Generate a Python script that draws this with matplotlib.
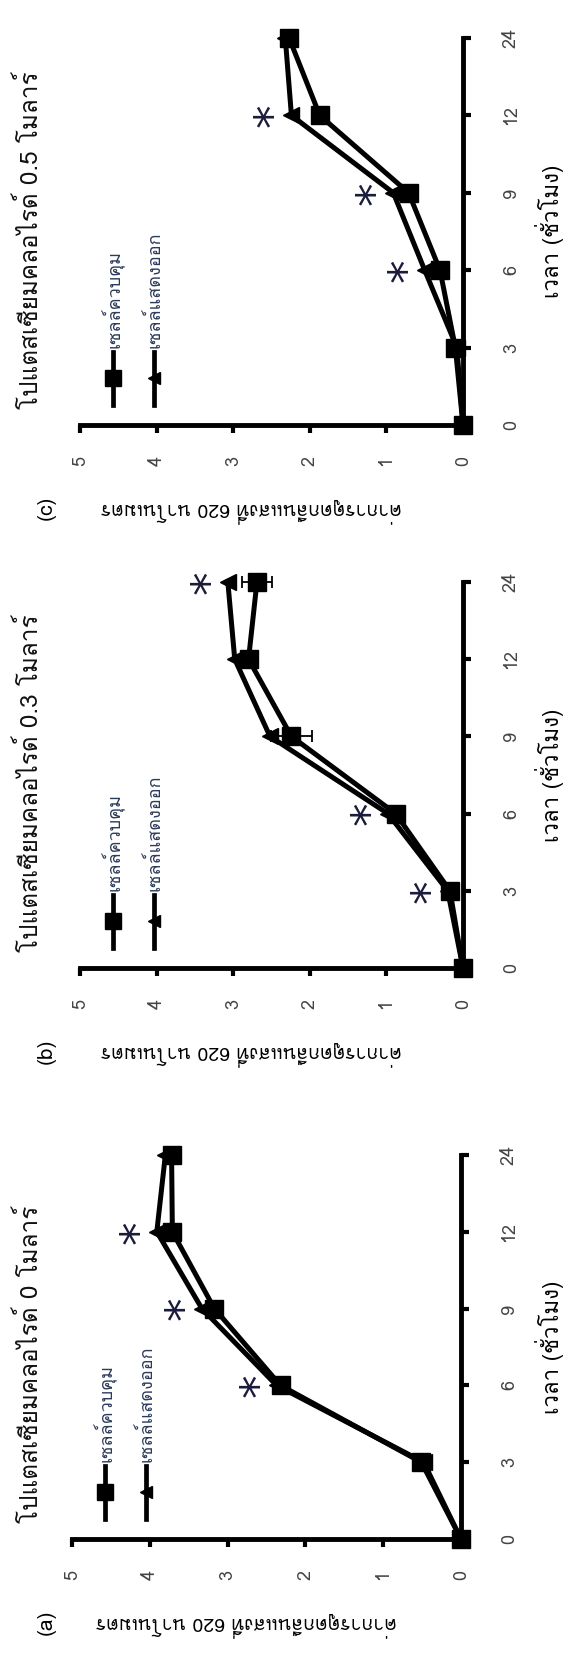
import numpy as np
import matplotlib
matplotlib.use("Agg")
import matplotlib.pyplot as plt
from matplotlib.lines import Line2D

# time points (category axis) and absorbance ticks
times = ['0', '3', '6', '9', '12', '24']
abs_ticks = [0, 1, 2, 3, 4, 5]

# (a) KCl 0 M
ctrl_a = [0.0, 0.51, 2.32, 3.17, 3.71, 3.72]
expr_a = [0.0, 0.48, 2.37, 3.33, 3.91, 3.80]
err_a = [0, 0, 0, 0, 0, 0]
star_a = [2, 3, 4]

# (b) KCl 0.3 M
ctrl_b = [0.0, 0.17, 0.88, 2.24, 2.80, 2.69]
expr_b = [0.0, 0.20, 0.98, 2.52, 2.98, 3.07]
err_b = [0, 0, 0, 0.27, 0, 0.19]
star_b = [1, 2, 5]

# (c) KCl 0.5 M
ctrl_c = [0.0, 0.10, 0.30, 0.71, 1.87, 2.27]
expr_c = [0.0, 0.08, 0.50, 0.91, 2.24, 2.32]
err_c = [0, 0, 0, 0, 0, 0]
star_c = [2, 3, 4]

titles = ['โปแตสเซียมคลอไรด์ 0 โมลาร์',
          'โปแตสเซียมคลอไรด์ 0.3 โมลาร์',
          'โปแตสเซียมคลอไรด์ 0.5 โมลาร์']
tags = ['(a)', '(b)', '(c)']
legend_labels = ['เซลล์ควบคุม', 'เซลล์แสดงออก']
time_label = 'เวลา (ชั่วโมง)'
abs_label = 'ค่าการดูดกลืนแสงที่ 620 นาโนเมตร'

plt.rcParams['font.family'] = ['Loma', 'Noto Sans Thai', 'DejaVu Sans']

W, H = 564, 1653
fig = plt.figure(figsize=(W / 100, H / 100), dpi=100)


def fx(x):
    return x / W


def fy(y):
    return 1 - y / H


def put(x, y, s, **kw):
    fig.text(fx(x), fy(y), s, **kw)


# pixel boxes (left, top, right, bottom) of each panel
boxes = [(72, 1155, 461, 1539), (80, 582, 463, 968), (80, 38, 463, 425)]
ctrls = [ctrl_a, ctrl_b, ctrl_c]
exprs = [expr_a, expr_b, expr_c]
errs = [err_a, err_b, err_c]
stars = [star_a, star_b, star_c]

pos = np.arange(len(times))

for i in range(3):
    l, t, r, b = boxes[i]
    ax = fig.add_axes([fx(l), fy(b), (r - l) / W, (b - t) / H])
    ax.plot(exprs[i], pos, color='black', lw=3.6, marker='<', ms=11,
            zorder=3, clip_on=False)
    ax.errorbar(ctrls[i], pos, xerr=errs[i], color='black', lw=3.6, marker='s',
                ms=13, elinewidth=1.3, capsize=4, capthick=1.3, zorder=4,
                clip_on=False)
    for k in stars[i]:
        ax.annotate('*', xy=(exprs[i][k], pos[k]), xytext=(-17, 0),
                    textcoords='offset pixels', rotation=90, fontsize=34,
                    ha='center', va='center', color='#1a1a3a',
                    family='DejaVu Sans')

    ax.set_xlim(5, 0)
    ax.set_ylim(0, 5)
    ax.set_xticks(abs_ticks)
    ax.set_xticklabels([str(v) for v in abs_ticks], rotation=90, va='top')
    ax.set_yticks(pos)
    ax.set_yticklabels(times, rotation=90, va='center')
    ax.yaxis.tick_right()
    ax.tick_params(axis='x', length=6, width=3, pad=16, labelsize=13, labelcolor='#444444')
    ax.tick_params(axis='y', length=6, width=3, pad=22, labelsize=13, labelcolor='#444444')
    for s in ['top', 'left']:
        ax.spines[s].set_visible(False)
    for s in ['right', 'bottom']:
        ax.spines[s].set_linewidth(3.5)
    ax.patch.set_alpha(0)

    # legend drawn by hand, rotated like the rest
    for k, (mk, ms) in enumerate([('s', 11), ('<', 9)]):
        lx = l + 33 + 41 * k
        fig.add_artist(Line2D([fx(lx), fx(lx)], [fy(b - 73), fy(b - 20)],
                              color='black', lw=3.4))
        fig.add_artist(Line2D([fx(lx)], [fy(b - 47)], marker=mk, ms=ms,
                              color='black', ls='none'))
        put(lx, b - 77, legend_labels[k], rotation=90, rotation_mode='anchor',
            ha='left', va='center', fontsize=13, color='#2b3a5a')

    put(30, b - 16, titles[i], rotation=90, rotation_mode='anchor',
        ha='left', va='center', fontsize=17.5, color='#111111')
    put(46, b + 83, tags[i], rotation=90, ha='center', va='center', fontsize=15)
    put((l + r) / 2 - 20, b + 85, abs_label, rotation=180, ha='center', va='center', fontsize=14)
    put(550, (t + b) / 2, time_label, rotation=90, ha='center', va='center', fontsize=16)

fig.savefig('out.png', dpi=100)
